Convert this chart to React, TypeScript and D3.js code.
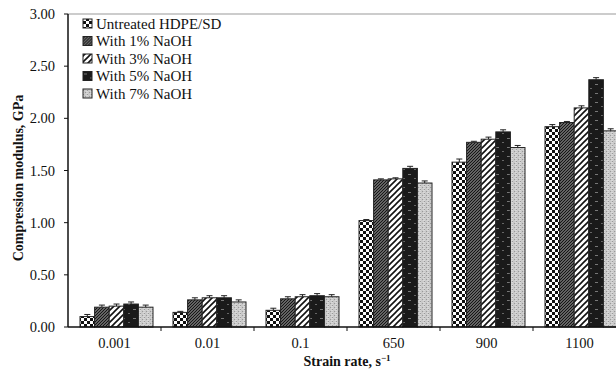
import React from "react";
import * as d3 from "d3";

const categories = ["0.001", "0.01", "0.1", "650", "900", "1100"];
const seriesNames = ["Untreated HDPE/SD", "With 1% NaOH", "With 3% NaOH", "With 5% NaOH", "With 7% NaOH"];
const untreated = [0.10, 0.14, 0.16, 1.02, 1.58, 1.92];
const naoh1 = [0.19, 0.26, 0.27, 1.41, 1.77, 1.96];
const naoh3 = [0.20, 0.28, 0.29, 1.42, 1.80, 2.10];
const naoh5 = [0.22, 0.28, 0.30, 1.52, 1.87, 2.37];
const naoh7 = [0.19, 0.24, 0.29, 1.38, 1.72, 1.88];
const errUntreated = [0.02, 0.01, 0.02, 0.01, 0.03, 0.02];
const err1 = [0.02, 0.02, 0.02, 0.01, 0.01, 0.01];
const err3 = [0.02, 0.02, 0.02, 0.01, 0.02, 0.02];
const err5 = [0.02, 0.02, 0.02, 0.02, 0.02, 0.02];
const err7 = [0.02, 0.02, 0.02, 0.02, 0.02, 0.02];
const yTicks = [0, 0.5, 1, 1.5, 2, 2.5, 3];

const seriesValues = [untreated, naoh1, naoh3, naoh5, naoh7];
const seriesErrors = [errUntreated, err1, err3, err5, err7];
const patternIds = ["pChecker", "pDense", "pStripe", "pBlack", "pZig"];

export default function App() {
  const left = 68;
  const bandW = 93;
  const x = d3.scaleBand<string>().domain(categories).range([left, left + bandW * categories.length]).paddingInner(0).paddingOuter(0);
  const inner = d3.scaleBand<number>().domain([0, 1, 2, 3, 4]).range([12, 85]).padding(0);
  const y = d3.scaleLinear().domain([0, 3]).range([327, 14]);
  const font = "'Liberation Serif', 'Times New Roman', serif";

  return (
    <svg width={616} height={371} style={{ position: "absolute", left: 0, top: 0, background: "#fff" }}>
      <defs>
        <pattern id="pChecker" width={6} height={6} patternUnits="userSpaceOnUse">
          <rect width={6} height={6} fill="#fff" />
          <rect x={0} y={0} width={3} height={3} fill="#111" />
          <rect x={3} y={3} width={3} height={3} fill="#111" />
        </pattern>
        <pattern id="pDense" width={3} height={3} patternUnits="userSpaceOnUse">
          <rect width={3} height={3} fill="#888" />
          <path d="M0,3 L3,0 M-1,1 L1,-1 M2,4 L4,2" stroke="#111" strokeWidth={1.2} />
        </pattern>
        <pattern id="pStripe" width={6} height={6} patternUnits="userSpaceOnUse">
          <rect width={6} height={6} fill="#fff" />
          <path d="M0,6 L6,0 M-2,2 L2,-2 M4,8 L8,4" stroke="#111" strokeWidth={1.6} />
        </pattern>
        <pattern id="pBlack" width={11} height={9} patternUnits="userSpaceOnUse">
          <rect width={11} height={9} fill="#1a1a1a" />
          <rect x={1} y={3} width={3} height={1} fill="#777" />
          <rect x={7} y={7} width={2} height={1} fill="#666" />
        </pattern>
        <pattern id="pZig" width={4} height={4} patternUnits="userSpaceOnUse">
          <rect width={4} height={4} fill="#ececec" />
          <path d="M0,0.5 L1,1.5 L2,0.5 L3,1.5 L4,0.5 M0,2.5 L1,3.5 L2,2.5 L3,3.5 L4,2.5" stroke="#666" strokeWidth={0.6} fill="none" />
          <rect x={0} y={1} width={1} height={1} fill="#999" />
          <rect x={2} y={3} width={1} height={1} fill="#999" />
        </pattern>
      </defs>

      {/* top border */}
      <line x1={left} x2={616} y1={14} y2={14} stroke="#999" strokeWidth={1} />

      {/* bars */}
      {seriesValues.map((vals, s) => (
        <g key={s}>
          {vals.map((v, i) => {
            const bx = (x(categories[i]) as number) + (inner(s) as number);
            const bw = inner.bandwidth();
            const e = seriesErrors[s][i];
            const cx = bx + bw / 2;
            return (
              <g key={i}>
                <rect x={bx} y={y(v)} width={bw} height={y(0) - y(v)} fill={`url(#${patternIds[s]})`} stroke="#222" strokeWidth={1} />
                <line x1={cx} x2={cx} y1={y(v + e)} y2={y(v)} stroke="#222" strokeWidth={1} />
                <line x1={cx - 3} x2={cx + 3} y1={y(v + e)} y2={y(v + e)} stroke="#222" strokeWidth={1} />
              </g>
            );
          })}
        </g>
      ))}

      {/* y axis */}
      <line x1={left} x2={left} y1={14} y2={327} stroke="#111" strokeWidth={1.5} />
      {yTicks.map((t) => (
        <g key={t}>
          <line x1={left - 4} x2={left} y1={y(t)} y2={y(t)} stroke="#111" strokeWidth={1} />
          <text x={55} y={y(t) + 5} textAnchor="end" fontFamily={font} fontSize={14.5} fill="#111">
            {d3.format(".2f")(t)}
          </text>
        </g>
      ))}

      {/* x axis */}
      <line x1={left} x2={616} y1={327} y2={327} stroke="#111" strokeWidth={1.5} />
      {categories.map((c, i) => (
        <g key={c}>
          <line x1={(x(c) as number) + bandW} x2={(x(c) as number) + bandW} y1={327} y2={331} stroke="#111" strokeWidth={1} />
          <text x={(x(c) as number) + bandW / 2} y={348} textAnchor="middle" fontFamily={font} fontSize={14.5} fill="#111">
            {c}
          </text>
        </g>
      ))}

      {/* axis titles */}
      <text x={347} y={366} textAnchor="middle" fontFamily={font} fontSize={14} fontWeight="bold" fill="#111">
        Strain rate, s<tspan dy={-5} fontSize={9}>−1</tspan>
      </text>
      <text transform="translate(23,178) rotate(-90)" textAnchor="middle" fontFamily={font} fontSize={14} fontWeight="bold" fill="#111">
        Compression modulus, GPa
      </text>

      {/* legend */}
      {seriesNames.map((n, s) => (
        <g key={n} transform={`translate(83, ${27 + s * 17.5})`}>
          <rect x={0} y={-8} width={9} height={9} fill={`url(#${patternIds[s]})`} stroke="#222" strokeWidth={1} />
          <text x={13} y={1.5} fontFamily={font} fontSize={15} fill="#111">{n}</text>
        </g>
      ))}
    </svg>
  );
}
